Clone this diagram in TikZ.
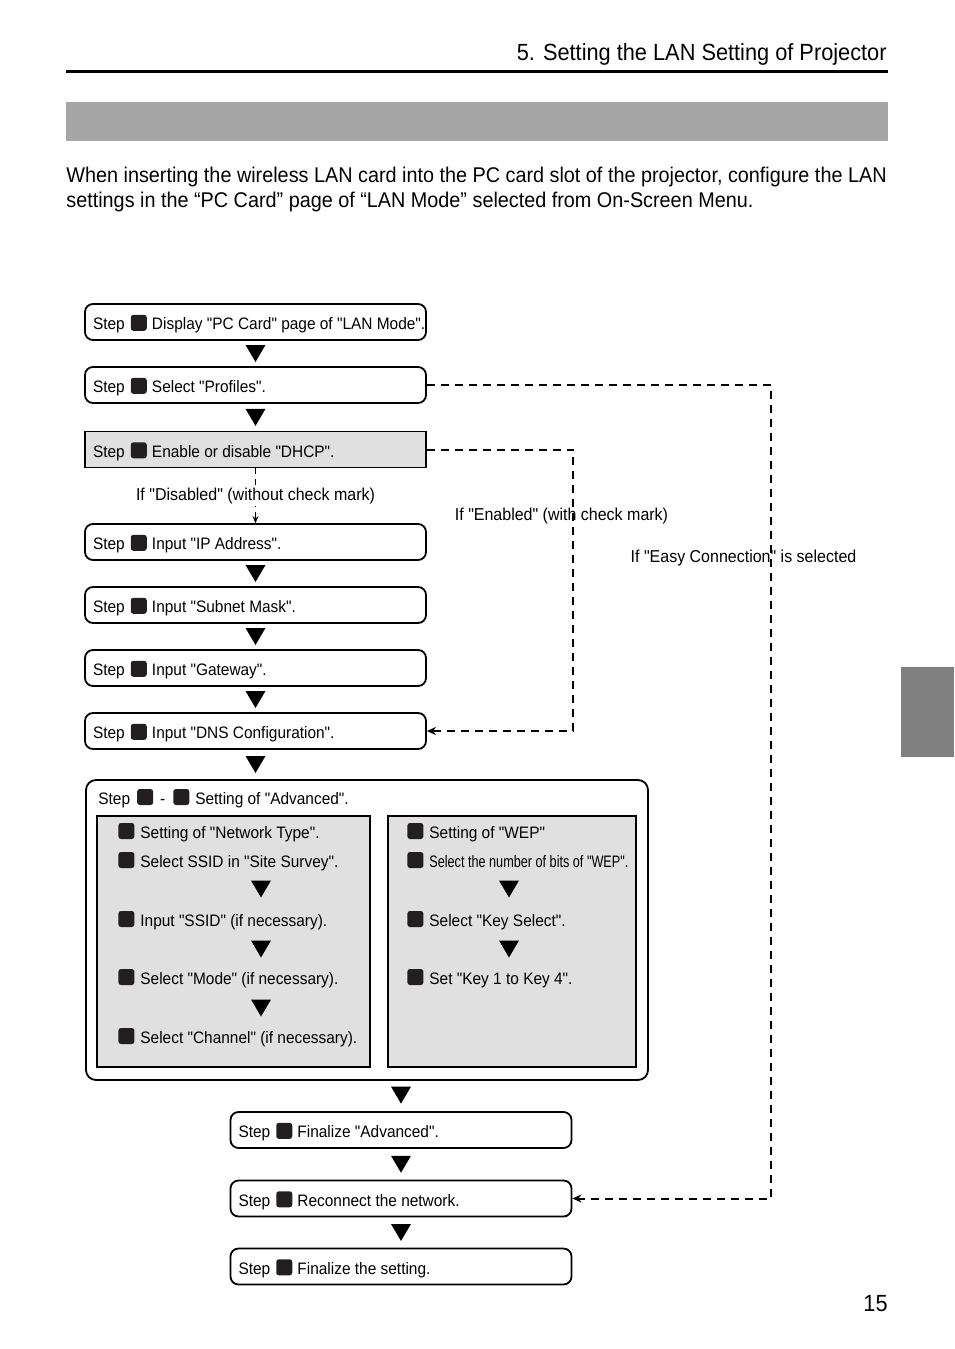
\documentclass[tikz,border=0pt]{standalone}
\usepackage{fontspec}
\setmainfont{Liberation Sans}[FakeStretch=0.93,Ligatures=TeXOff]
\usepackage{tikz}
\usetikzlibrary{positioning,calc,arrows.meta}
\definecolor{bargray}{HTML}{A6A6A6}
\definecolor{panelgray}{HTML}{E0E0E0}
\definecolor{tabgray}{HTML}{808080}
\definecolor{sqblack}{HTML}{231F20}
\newcommand{\boxfont}{\fontsize{8.3}{10}\selectfont}
\newcommand{\numsq}{\tikz[baseline=0.5pt]{\fill[sqblack,rounded corners=1.3pt] (0,0) rectangle (8pt,8pt);}}
\newcommand{\stepsq}{Step\hspace{3pt}\numsq\hspace{2.6pt}}
\newcommand{\steptext}[1]{\makebox[162.5pt][l]{#1}}
\tikzstyle{stepbox}=[
  draw, line width=0.9pt, rounded corners=4pt, minimum height=18pt,
  inner xsep=4pt, inner ysep=0pt, text height=8.3pt, text depth=0.5pt, font=\boxfont
]
\tikzstyle{stepgray}=[
  stepbox, rounded corners=0pt, fill=panelgray, line width=0.7pt
]
\tikzstyle{panel}=[
  draw, line width=1.2pt, fill=panelgray, minimum height=125.5pt
]
\tikzstyle{item}=[
  anchor=base west, inner sep=0pt, font=\boxfont
]
\tikzstyle{cond}=[
  inner sep=1pt, font=\fontsize{8.6}{10}\selectfont
]
\tikzstyle{dashline}=[
  line width=1pt, dash pattern=on 4pt off 3pt, -{Stealth[length=4.5pt,width=4pt]}
]
\tikzset{
  downtri/.pic={\fill[black] (-10,-8.5) -- (10,-8.5) -- (0,8.5) -- cycle;}
}

\begin{document}
\begin{tikzpicture}[x=0.5pt,y=-0.5pt]
  \useasboundingbox (0,0) rectangle (954,1349);
  % page head
  \node (head) [anchor=base east, inner sep=0pt, font=\fontsize{11.7}{14}\selectfont] at (887,61) {5. Setting the LAN Setting of Projector};
  \draw [line width=1.5pt] (66,71) -- (888,71);
  \fill [bargray] (66,102) rectangle (888,141);
  \node (para1) [anchor=base west, inner sep=0pt, font=\fontsize{10.65}{12.5}\selectfont] at (66,182) {When inserting the wireless LAN card into the PC card slot of the projector, configure the LAN};
  \node (para2) [anchor=base west, inner sep=0pt, font=\fontsize{10.65}{12.5}\selectfont] at (66,207) {settings in the “PC Card” page of “LAN Mode” selected from On-Screen Menu.};
  \fill [tabgray] (901,667) rectangle (954,757);
  \node (pageno) [anchor=base east, inner sep=0pt, font=\fontsize{11.7}{14}\selectfont] at (888,1311) {15};

  % steps
  \node (s1) [stepbox] at (255.5,322) {\steptext{\stepsq Display "PC Card" page of "LAN Mode".}};
  \node (s2) [stepbox] at (255.5,385) {\steptext{\stepsq Select "Profiles".}};
  \node (s3) [stepgray] at (255.5,449.5) {\steptext{\stepsq Enable or disable "DHCP".}};
  \node (s4) [stepbox] at (255.5,542) {\steptext{\stepsq Input "IP Address".}};
  \node (s5) [stepbox] at (255.5,605) {\steptext{\stepsq Input "Subnet Mask".}};
  \node (s6) [stepbox] at (255.5,668) {\steptext{\stepsq Input "Gateway".}};
  \node (s7) [stepbox] at (255.5,731) {\steptext{\stepsq Input "DNS Configuration".}};

  \node (adv) [draw, line width=0.9pt, rounded corners=5pt, minimum width=281pt, minimum height=150pt] at (367,930) {};
  \node (advt) [item] at (98,804) {Step\hspace{3.5pt}\numsq\hspace{3.5pt}-\hspace{4pt}\numsq\hspace{3pt}Setting of "Advanced".};
  \node (lp) [panel, minimum width=136.5pt] at (233.5,941.5) {};
  \node (rp) [panel, minimum width=124pt] at (512,941.5) {};

  \node (l1) [item] at (118,838) {\numsq\hspace{3pt}Setting of "Network Type".};
  \node (l2) [item] at (118,867) {\numsq\hspace{3pt}Select SSID in "Site Survey".};
  \node (l3) [item] at (118,926) {\numsq\hspace{3pt}Input "SSID" (if necessary).};
  \node (l4) [item] at (118,984) {\numsq\hspace{3pt}Select "Mode" (if necessary).};
  \node (l5) [item] at (118,1043) {\numsq\hspace{3pt}Select "Channel" (if necessary).};
  \node (r1) [item] at (407,838) {\numsq\hspace{3pt}Setting of "WEP"};
  \node (r2) [item] at (407,867) {\numsq\hspace{3pt}\scalebox{0.82}[1]{Select the number of bits of "WEP".}};
  \node (r3) [item] at (407,926) {\numsq\hspace{3pt}Select "Key Select".};
  \node (r4) [item] at (407,984) {\numsq\hspace{3pt}Set "Key 1 to Key 4".};

  \node (s8) [stepbox] at (401,1130) {\steptext{\stepsq Finalize "Advanced".}};
  \node (s9) [stepbox] at (401,1198.5) {\steptext{\stepsq Reconnect the network.}};
  \node (s10) [stepbox] at (401,1266.5) {\steptext{\stepsq Finalize the setting.}};

  % flow marks
  \foreach \a/\b in {s1/s2,s2/s3,s4/s5,s5/s6,s6/s7,s8/s9,s9/s10}
    \pic at ($(\a.south)!0.5!(\b.north)$) {downtri};
  \pic at ($(s7.south)!0.5!(s7.south |- adv.north)$) {downtri};
  \pic at ($(s8.north)+(0,-16)$) {downtri};
  \foreach \y in {889,949,1008}
    \pic at (261,\y) {downtri};
  \foreach \y in {889,949}
    \pic at (509,\y) {downtri};

  % branches
  \coordinate (dhcpx) at (573,0);
  \coordinate (easyx) at (771,0);
  \draw [line width=0.6pt, dash pattern=on 3pt off 2.5pt, -{Stealth[length=3.5pt,width=3pt]}] (s3.south) -- (s4.north)
    node [midway, fill=white, cond] {If "Disabled" (without check mark)};
  \draw [dashline] (s3.east) -- (s3.east -| dhcpx) -- (s7.east -| dhcpx) -- (s7.east);
  \draw [dashline] (s2.east) -- (s2.east -| easyx) -- (s9.east -| easyx) -- (s9.east);
  \node (en) [cond] at (561.5,516) {If "Enabled" (with check mark)};
  \node (ez) [cond] at (743.5,558) {If "Easy Connection" is selected};
\end{tikzpicture}
\end{document}
